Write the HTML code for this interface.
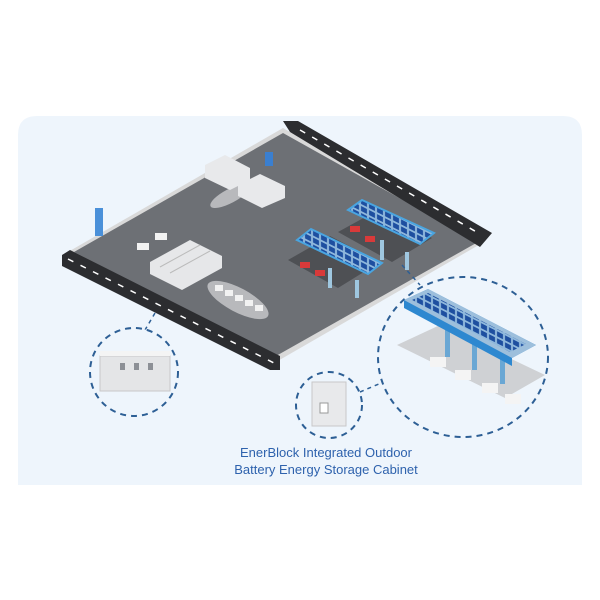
<!DOCTYPE html>
<html><head><style>
html,body{margin:0;padding:0;background:#fff;width:600px;height:600px;overflow:hidden}
</style></head><body>
<svg width="600" height="600" viewBox="0 0 600 600" xmlns="http://www.w3.org/2000/svg">
<defs>
<pattern id="pv" width="8" height="7" patternUnits="userSpaceOnUse" patternTransform="skewY(27)">
<rect width="8" height="7" fill="#8fb8dc"/>
<rect x="1" y="1" width="6" height="5" fill="#1e4fa0"/>
</pattern>
</defs>
<path d="M18 135 Q18 116 37 116 L563 116 Q582 116 582 135 L582 485 L18 485 Z" fill="#eef5fc"/>
<!-- lot -->
<polygon points="68,252 283,128 484,242 276,362" fill="#d9d9d9"/>
<polygon points="74,252 283,133 478,242 276,356" fill="#6d7075"/>
<!-- top road -->
<polygon points="283,121 298,121 492,233 480,247 472,242 290,132" fill="#2c2d30"/>
<line x1="300" y1="130" x2="480" y2="234" stroke="#fff" stroke-width="1.5" stroke-dasharray="6,8"/>
<!-- left road -->
<polygon points="62,255 70,250 280,356 280,370 270,370 62,266" fill="#2c2d30"/>
<line x1="68" y1="259" x2="274" y2="363" stroke="#fff" stroke-width="1.5" stroke-dasharray="6,8"/>
<!-- pads -->
<polygon points="288,260 330,236 380,262 338,288" fill="#4e5054"/>
<polygon points="338,232 378,210 432,238 392,262" fill="#4e5054"/>
<!-- trucks -->
<ellipse cx="230" cy="196" rx="22" ry="7" fill="#b8b9bc" transform="rotate(-28 230 196)"/>
<polygon points="205,165 225,155 250,168 250,180 230,190 205,178" fill="#e8e9eb"/>
<polygon points="238,185 260,174 285,186 285,198 262,208 238,196" fill="#e8e9eb"/>
<rect x="265" y="152" width="8" height="14" fill="#3a7fd0"/>
<!-- battery blocks -->
<polygon points="150,262 190,240 222,256 222,268 182,290 150,274" fill="#e6e7e9"/>
<line x1="160" y1="267" x2="200" y2="245" stroke="#bbb"/>
<line x1="170" y1="273" x2="210" y2="251" stroke="#bbb"/>
<!-- cars row -->
<ellipse cx="238" cy="300" rx="34" ry="12" fill="#b8b9bc" transform="rotate(28 238 300)"/>
<g fill="#f2f2f2"><rect x="215" y="285" width="8" height="6"/><rect x="225" y="290" width="8" height="6"/><rect x="235" y="295" width="8" height="6"/><rect x="245" y="300" width="8" height="6"/><rect x="255" y="305" width="8" height="6"/></g>
<g fill="#f2f2f2"><rect x="137" y="243" width="12" height="7"/><rect x="155" y="233" width="12" height="7"/></g>
<!-- kiosk -->
<rect x="95" y="208" width="8" height="28" fill="#4a90d9"/>
<!-- canopies -->
<g fill="#d83a3a"><rect x="300" y="262" width="10" height="6"/><rect x="315" y="270" width="10" height="6"/><rect x="350" y="226" width="10" height="6"/><rect x="365" y="236" width="10" height="6"/></g>
<polygon points="297,240 311,229 382,263 368,274" fill="url(#pv)" stroke="#4aa5e0" stroke-width="2"/>
<polygon points="348,210 362,200 434,233 420,244" fill="url(#pv)" stroke="#4aa5e0" stroke-width="2"/>
<g fill="#9fc7e0"><rect x="328" y="268" width="4" height="20"/><rect x="355" y="280" width="4" height="18"/><rect x="380" y="240" width="4" height="20"/><rect x="405" y="252" width="4" height="18"/></g>
<!-- connectors -->
<g stroke="#2d5f95" stroke-width="1.5" stroke-dasharray="4,4" fill="none">
<line x1="155" y1="313" x2="145" y2="330"/>
<line x1="360" y1="392" x2="400" y2="375"/>
<line x1="402" y1="265" x2="420" y2="285"/>
</g>
<!-- circles -->
<g fill="#eef5fc" stroke="#2d5f95" stroke-width="2" stroke-dasharray="6,5">
<circle cx="134" cy="372" r="44"/>
<circle cx="329" cy="405" r="33"/>
<ellipse cx="463" cy="357" rx="85" ry="80"/>
</g>
<!-- left cabinet -->
<rect x="100" y="356" width="70" height="35" fill="#e4e5e7" stroke="#c8c8c8"/>
<rect x="100" y="351" width="70" height="5" fill="#f4f4f4"/>
<g fill="#8d9096"><rect x="120" y="363" width="5" height="7"/><rect x="134" y="363" width="5" height="7"/><rect x="148" y="363" width="5" height="7"/></g>
<!-- mid cabinet -->
<rect x="312" y="382" width="34" height="44" fill="#e8e9eb" stroke="#c8c8c8"/>
<rect x="320" y="403" width="8" height="10" fill="#fff" stroke="#999"/>
<!-- big canopy -->
<polygon points="397,345 440,325 545,375 505,398" fill="#cfd1d4"/>
<g fill="#f4f4f4"><rect x="430" y="357" width="16" height="10"/><rect x="455" y="370" width="16" height="10"/><rect x="482" y="383" width="16" height="10"/><rect x="505" y="394" width="16" height="10"/></g>
<g fill="#6aa7d4"><rect x="445" y="325" width="5" height="32"/><rect x="472" y="338" width="5" height="32"/><rect x="500" y="352" width="5" height="32"/></g>
<polygon points="404,300 428,289 536,345 512,358 512,366 404,308" fill="#2e88d0"/>
<polygon points="404,300 428,289 536,345 512,358" fill="#9dbfdc"/>
<polygon points="412,300 428,293 526,344 510,352" fill="url(#pv)"/>
<!-- text -->
<text x="326" y="457" text-anchor="middle" font-family="Liberation Sans, sans-serif" font-size="13" fill="#2e62ad">EnerBlock Integrated Outdoor</text>
<text x="326" y="474" text-anchor="middle" font-family="Liberation Sans, sans-serif" font-size="13" fill="#2e62ad">Battery Energy Storage Cabinet</text>
</svg>
</body></html>
